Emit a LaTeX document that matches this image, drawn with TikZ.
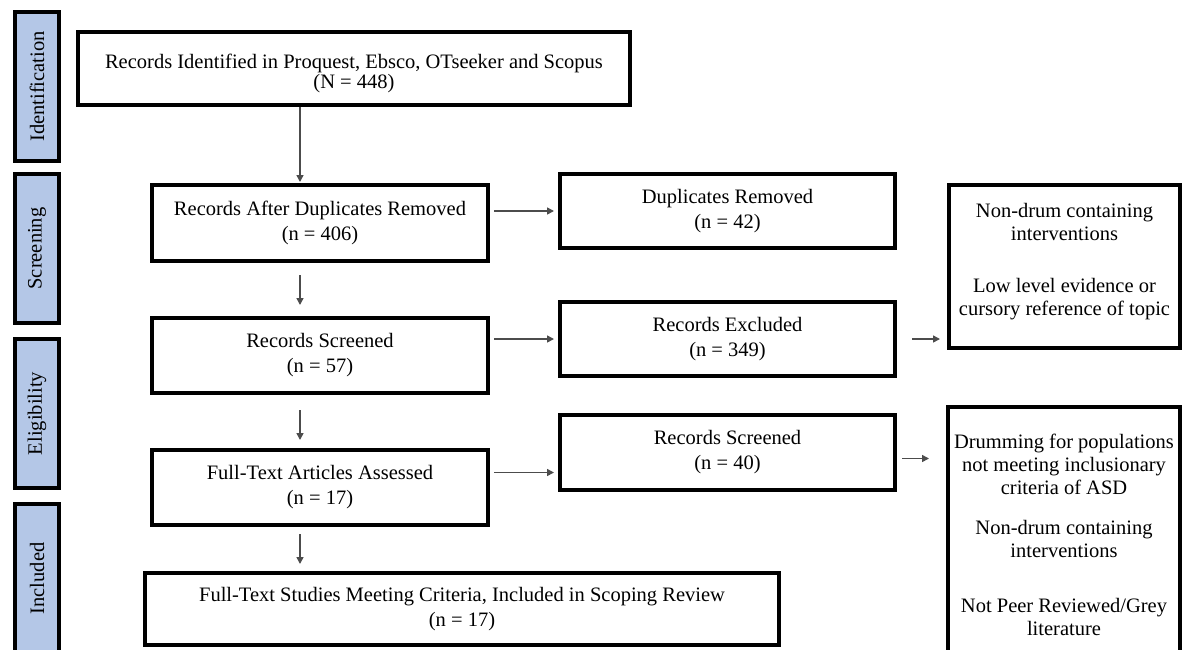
\documentclass[tikz,border=0pt]{standalone}
\usepackage{fontspec}
\setmainfont{Liberation Serif}
\usetikzlibrary{arrows.meta}
\definecolor{stageblue}{HTML}{B4C7E7}

\begin{document}
\begin{tikzpicture}
	[x=1pt, y=-1pt,
	box/.style={draw, line width=4pt, inner sep=0pt, align=center,
		font=\fontsize{20.5}{25}\selectfont},
	stagebar/.style={draw, fill=stageblue, line width=4.5pt, rotate=90,
		minimum width=149pt, minimum height=44pt, inner sep=0pt,
		font=\fontsize{20.5}{25}\selectfont},
	flow/.style={-{Triangle[length=7pt,width=7pt]}, draw=black!70, line width=1.5pt}]
	\useasboundingbox (0,0) rectangle (1183,649);
	% stages
	\foreach \nm/\yc/\txt in {ident/86.5/Identification, screen/248.5/Screening,
		elig/413.5/Eligibility, incl/578.5/Included}{
		\node[stagebar] (\nm) at (37,\yc) {\txt};
	}
	% main column
	\coordinate (spine) at (300,0);
	\node[box, minimum width=552pt, minimum height=73pt] (found) at (354,68.5)
		{\rule{0pt}{25pt}Records Identified in Proquest, Ebsco, OTseeker and Scopus\\[-5pt](N = 448)};
	\node[box, minimum width=336pt, minimum height=76pt] (dedup) at (320,223)
		{Records After Duplicates Removed\\(n = 406)};
	\node[box, minimum width=336pt, minimum height=75pt] (screened) at (320,355.5)
		{Records Screened\\(n = 57)};
	\node[box, minimum width=336pt, minimum height=75pt] (assessed) at (320,487.5)
		{Full-Text Articles Assessed\\(n = 17)};
	\node[box, minimum width=634pt, minimum height=72pt] (included) at (462,609)
		{Full-Text Studies Meeting Criteria, Included in Scoping Review\\(n = 17)};
	% side column
	\node[box, minimum width=335pt, minimum height=74pt] (dupl) at (727.5,211)
		{Duplicates Removed\\(n = 42)};
	\node[box, minimum width=335pt, minimum height=74pt] (excluded) at (727.5,339)
		{Records Excluded\\(n = 349)};
	\node[box, minimum width=335pt, minimum height=75pt] (notelig) at (727.5,452.5)
		{Records Screened\\(n = 40)};
	% reasons
	\node[box, font=\fontsize{20.5}{23}\selectfont, minimum width=231pt,
		minimum height=163pt] (reasonA) at (1064.5,266.5)
		{Non-drum containing\\interventions\\[29pt]Low level evidence or\\cursory reference of topic\rule[-15pt]{0pt}{15pt}};
	\node[box, font=\fontsize{20.5}{23}\selectfont, minimum width=232pt,
		minimum height=256pt] (reasonB) at (1064,535)
		{Drumming for populations\\not meeting inclusionary\\criteria of ASD\\[17pt]Non-drum containing\\interventions\\[32pt]Not Peer Reviewed/Grey\\literature};
	% arrows down
	\draw[flow, shorten >=1pt] (found.south -| spine) -- (dedup.north -| spine);
	\draw[flow, shorten <=12pt, shorten >=11pt] (dedup.south -| spine) -- (screened.north -| spine);
	\draw[flow, shorten <=15pt, shorten >=8pt] (screened.south -| spine) -- (assessed.north -| spine);
	\draw[flow, shorten <=7pt, shorten >=7pt] (assessed.south -| spine) -- (included.north -| spine);
	% arrows across
	\draw[flow, shorten <=4pt, shorten >=4pt] (dedup.east |- dupl.west) -- (dupl.west);
	\draw[flow, shorten <=4pt, shorten >=4pt] (screened.east |- excluded.west) -- (excluded.west);
	\draw[flow, shorten <=4pt, shorten >=4pt] ([yshift=15pt]assessed.east) -- ([yshift=15pt]assessed.east -| notelig.west);
	\draw[flow, shorten <=15pt, shorten >=7pt] (excluded.east) -- (excluded.east -| reasonA.west);
	\draw[flow, shorten <=5pt, shorten >=17pt] ([yshift=-6pt]notelig.east) -- ([yshift=-6pt]notelig.east -| reasonB.west);
\end{tikzpicture}
\end{document}
